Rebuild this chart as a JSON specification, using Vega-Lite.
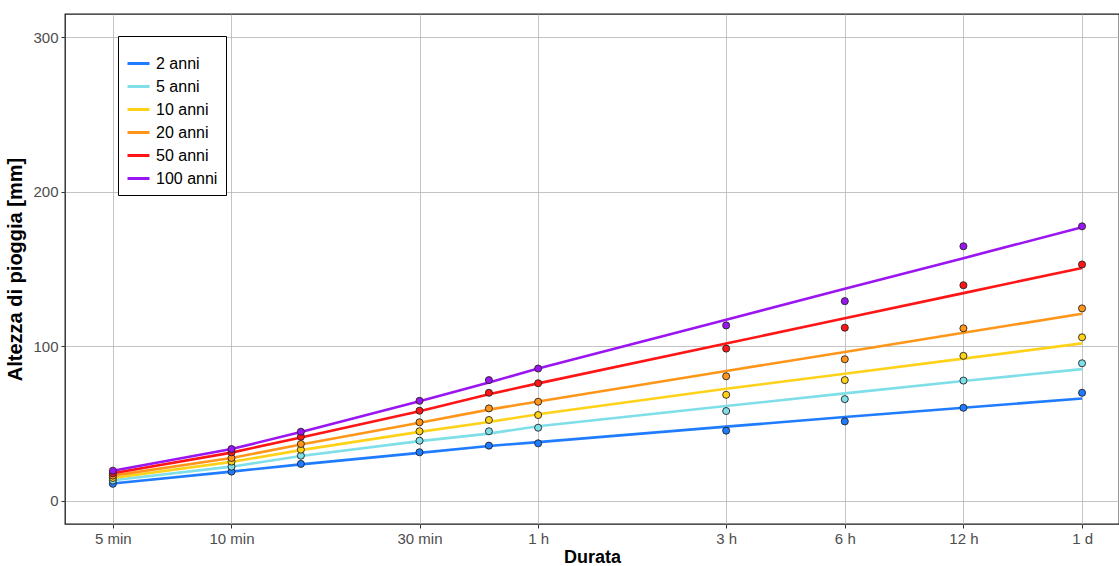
{
  "$schema": "https://vega.github.io/schema/vega-lite/v6.json",
  "width": 1054,
  "height": 510,
  "autosize": {"type": "none"},
  "padding": {"left": 65, "top": 14, "right": 0, "bottom": 42},
  "background": "white",
  "config": {
    "font": "Liberation Sans",
    "view": {"stroke": "#1a1a1a", "strokeWidth": 1.3},
    "axis": {
      "domain": false,
      "grid": true,
      "gridColor": "#b5b5b5",
      "gridWidth": 0.8,
      "tickColor": "#333333",
      "tickSize": 4,
      "labelColor": "#4d4d4d",
      "labelFontSize": 15,
      "labelFont": "Liberation Sans",
      "titleFont": "Liberation Sans",
      "titleFontWeight": "bold",
      "titleColor": "#000000"
    }
  },
  "datasets": {
    "obs": [
      {"d": 5, "T": "2 anni", "h": 11.0}, {"d": 10, "T": "2 anni", "h": 18.9}, {"d": 15, "T": "2 anni", "h": 23.9}, {"d": 30, "T": "2 anni", "h": 31.4}, {"d": 45, "T": "2 anni", "h": 35.7}, {"d": 60, "T": "2 anni", "h": 37.2}, {"d": 180, "T": "2 anni", "h": 45.4}, {"d": 360, "T": "2 anni", "h": 51.4}, {"d": 720, "T": "2 anni", "h": 60.2}, {"d": 1440, "T": "2 anni", "h": 69.9},
      {"d": 5, "T": "5 anni", "h": 13.1}, {"d": 10, "T": "5 anni", "h": 22.1}, {"d": 15, "T": "5 anni", "h": 29.2}, {"d": 30, "T": "5 anni", "h": 38.9}, {"d": 45, "T": "5 anni", "h": 45.0}, {"d": 60, "T": "5 anni", "h": 47.3}, {"d": 180, "T": "5 anni", "h": 58.1}, {"d": 360, "T": "5 anni", "h": 65.8}, {"d": 720, "T": "5 anni", "h": 77.8}, {"d": 1440, "T": "5 anni", "h": 89.0},
      {"d": 5, "T": "10 anni", "h": 14.8}, {"d": 10, "T": "10 anni", "h": 25.4}, {"d": 15, "T": "10 anni", "h": 33.1}, {"d": 30, "T": "10 anni", "h": 45.0}, {"d": 45, "T": "10 anni", "h": 52.3}, {"d": 60, "T": "10 anni", "h": 55.5}, {"d": 180, "T": "10 anni", "h": 68.6}, {"d": 360, "T": "10 anni", "h": 78.1}, {"d": 720, "T": "10 anni", "h": 93.8}, {"d": 1440, "T": "10 anni", "h": 105.8},
      {"d": 5, "T": "20 anni", "h": 16.3}, {"d": 10, "T": "20 anni", "h": 27.7}, {"d": 15, "T": "20 anni", "h": 36.8}, {"d": 30, "T": "20 anni", "h": 50.8}, {"d": 45, "T": "20 anni", "h": 59.8}, {"d": 60, "T": "20 anni", "h": 64.1}, {"d": 180, "T": "20 anni", "h": 80.6}, {"d": 360, "T": "20 anni", "h": 91.6}, {"d": 720, "T": "20 anni", "h": 111.6}, {"d": 1440, "T": "20 anni", "h": 124.5},
      {"d": 5, "T": "50 anni", "h": 17.8}, {"d": 10, "T": "50 anni", "h": 31.4}, {"d": 15, "T": "50 anni", "h": 41.5}, {"d": 30, "T": "50 anni", "h": 58.3}, {"d": 45, "T": "50 anni", "h": 69.9}, {"d": 60, "T": "50 anni", "h": 76.1}, {"d": 180, "T": "50 anni", "h": 98.5}, {"d": 360, "T": "50 anni", "h": 112.0}, {"d": 720, "T": "50 anni", "h": 139.5}, {"d": 1440, "T": "50 anni", "h": 152.9},
      {"d": 5, "T": "100 anni", "h": 19.5}, {"d": 10, "T": "100 anni", "h": 33.5}, {"d": 15, "T": "100 anni", "h": 44.7}, {"d": 30, "T": "100 anni", "h": 64.7}, {"d": 45, "T": "100 anni", "h": 78.1}, {"d": 60, "T": "100 anni", "h": 85.6}, {"d": 180, "T": "100 anni", "h": 113.5}, {"d": 360, "T": "100 anni", "h": 129.2}, {"d": 720, "T": "100 anni", "h": 164.7}, {"d": 1440, "T": "100 anni", "h": 177.6}
    ],
    "fit": [
      {"d": 5, "T": "2 anni", "h": 11.2}, {"d": 10, "T": "2 anni", "h": 18.9}, {"d": 15, "T": "2 anni", "h": 23.6}, {"d": 30, "T": "2 anni", "h": 31.0}, {"d": 45, "T": "2 anni", "h": 35.5}, {"d": 60, "T": "2 anni", "h": 38.0}, {"d": 180, "T": "2 anni", "h": 48.0}, {"d": 360, "T": "2 anni", "h": 54.2}, {"d": 720, "T": "2 anni", "h": 60.2}, {"d": 1440, "T": "2 anni", "h": 66.2},
      {"d": 5, "T": "5 anni", "h": 13.3}, {"d": 10, "T": "5 anni", "h": 22.1}, {"d": 15, "T": "5 anni", "h": 29.0}, {"d": 30, "T": "5 anni", "h": 38.6}, {"d": 45, "T": "5 anni", "h": 43.5}, {"d": 60, "T": "5 anni", "h": 48.3}, {"d": 180, "T": "5 anni", "h": 61.3}, {"d": 360, "T": "5 anni", "h": 69.5}, {"d": 720, "T": "5 anni", "h": 77.5}, {"d": 1440, "T": "5 anni", "h": 85.2},
      {"d": 5, "T": "10 anni", "h": 14.8}, {"d": 10, "T": "10 anni", "h": 25.2}, {"d": 15, "T": "10 anni", "h": 32.8}, {"d": 30, "T": "10 anni", "h": 44.6}, {"d": 45, "T": "10 anni", "h": 51.0}, {"d": 60, "T": "10 anni", "h": 56.0}, {"d": 180, "T": "10 anni", "h": 72.5}, {"d": 360, "T": "10 anni", "h": 82.2}, {"d": 720, "T": "10 anni", "h": 92.0}, {"d": 1440, "T": "10 anni", "h": 101.9},
      {"d": 5, "T": "20 anni", "h": 16.3}, {"d": 10, "T": "20 anni", "h": 27.7}, {"d": 15, "T": "20 anni", "h": 36.5}, {"d": 30, "T": "20 anni", "h": 50.5}, {"d": 45, "T": "20 anni", "h": 59.0}, {"d": 60, "T": "20 anni", "h": 64.3}, {"d": 180, "T": "20 anni", "h": 84.0}, {"d": 360, "T": "20 anni", "h": 96.3}, {"d": 720, "T": "20 anni", "h": 108.7}, {"d": 1440, "T": "20 anni", "h": 121.1},
      {"d": 5, "T": "50 anni", "h": 17.8}, {"d": 10, "T": "50 anni", "h": 31.2}, {"d": 15, "T": "50 anni", "h": 41.0}, {"d": 30, "T": "50 anni", "h": 58.0}, {"d": 45, "T": "50 anni", "h": 69.0}, {"d": 60, "T": "50 anni", "h": 76.0}, {"d": 180, "T": "50 anni", "h": 101.8}, {"d": 360, "T": "50 anni", "h": 118.1}, {"d": 720, "T": "50 anni", "h": 134.4}, {"d": 1440, "T": "50 anni", "h": 150.7},
      {"d": 5, "T": "100 anni", "h": 19.5}, {"d": 10, "T": "100 anni", "h": 33.5}, {"d": 15, "T": "100 anni", "h": 44.5}, {"d": 30, "T": "100 anni", "h": 64.5}, {"d": 45, "T": "100 anni", "h": 76.6}, {"d": 60, "T": "100 anni", "h": 85.6}, {"d": 180, "T": "100 anni", "h": 117.2}, {"d": 360, "T": "100 anni", "h": 137.2}, {"d": 720, "T": "100 anni", "h": 157.0}, {"d": 1440, "T": "100 anni", "h": 177.0}
    ]
  },
  "encoding": {
    "x": {
      "field": "d", "type": "quantitative",
      "scale": {"type": "log", "domain": [3.78, 1787], "nice": false},
      "axis": {
        "title": "Durata",
        "titleFontSize": 18,
        "values": [5, 10, 30, 60, 180, 360, 720, 1440],
        "labelExpr": "datum.value == 5 ? '5 min' : datum.value == 10 ? '10 min' : datum.value == 30 ? '30 min' : datum.value == 60 ? '1 h' : datum.value == 180 ? '3 h' : datum.value == 360 ? '6 h' : datum.value == 720 ? '12 h' : '1 d'",
        "labelPadding": 3,
        "titlePadding": 2
      }
    },
    "y": {
      "field": "h", "type": "quantitative",
      "scale": {"domain": [-15, 315], "nice": false, "zero": false},
      "axis": {"title": "Altezza di pioggia [mm]", "titleFontSize": 20, "values": [0, 100, 200, 300], "labelPadding": 3, "titlePadding": 7}
    }
  },
  "layer": [
    {
      "data": {"name": "fit"},
      "mark": {"type": "line", "strokeWidth": 2.6, "clip": true},
      "encoding": {
        "color": {
          "field": "T", "type": "nominal",
          "scale": {
            "domain": ["2 anni", "5 anni", "10 anni", "20 anni", "50 anni", "100 anni"],
            "range": ["#1F7BFF", "#7EDFE8", "#FFD21A", "#FF961A", "#FF1515", "#9B15F2"]
          },
          "legend": {
            "title": " ",
            "titleFontSize": 7,
            "titlePadding": 0,
            "orient": "none",
            "legendX": 53,
            "legendY": 22,
            "direction": "vertical",
            "symbolType": "stroke",
            "symbolSize": 484,
            "symbolStrokeWidth": 3,
            "labelFontSize": 16,
            "labelColor": "#000000",
            "labelFont": "Liberation Sans",
            "labelOffset": 5,
            "rowPadding": 2,
            "padding": 8,
            "strokeColor": "#000000",
            "fillColor": "#ffffff"
          }
        }
      }
    },
    {
      "data": {"name": "obs"},
      "mark": {"type": "circle", "size": 50, "stroke": "#222222", "strokeWidth": 0.9, "opacity": 1, "clip": true},
      "encoding": {
        "fill": {
          "field": "T", "type": "nominal",
          "scale": {
            "domain": ["2 anni", "5 anni", "10 anni", "20 anni", "50 anni", "100 anni"],
            "range": ["#1F7BFF", "#7EDFE8", "#FFD21A", "#FF961A", "#FF1515", "#9B15F2"]
          },
          "legend": null
        }
      }
    }
  ]
}
